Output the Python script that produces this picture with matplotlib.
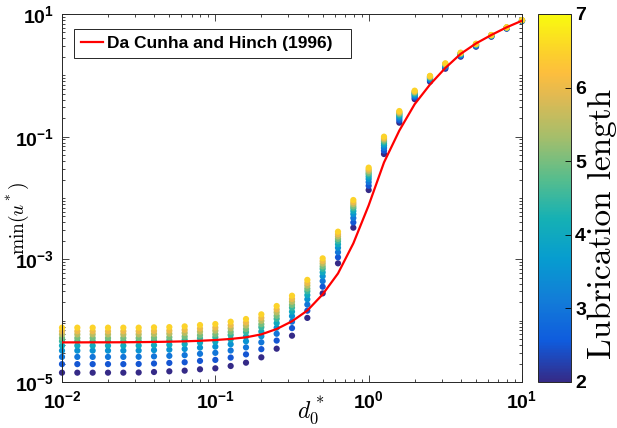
import numpy as np
import matplotlib
matplotlib.use("Agg")
import matplotlib.pyplot as plt
from matplotlib.colors import LinearSegmentedColormap
from matplotlib.ticker import LogLocator, NullFormatter, FixedLocator

plt.rcParams["mathtext.fontset"] = "custom"
plt.rcParams["mathtext.rm"] = "cmr10"
plt.rcParams["mathtext.it"] = "cmmi10"
plt.rcParams["mathtext.bf"] = "Liberation Sans:bold"
plt.rcParams["mathtext.sf"] = "Liberation Sans"
plt.rcParams["font.family"] = "Liberation Sans"

# gap d0* sampled at 10 points per decade
d0 = 10 ** np.arange(-2, 1.01, 0.1)

# lubrication lengths of the simulations
lub_len = [2.0, 2.5, 3.0, 3.5, 4.0, 4.5, 5.0, 5.5, 6.0, 6.5]
# relative position of each lubrication length inside a column
lub_profile = [0.0, 0.19, 0.35, 0.49, 0.60, 0.70, 0.77, 0.85, 0.92, 1.0]

# log10 min(u*) for the smallest (L=2) and largest (L=6.5) lubrication length
log_u_low = [-4.848, -4.848, -4.848, -4.848, -4.848, -4.845, -4.837, -4.826,
             -4.815, -4.793, -4.777, -4.739, -4.685, -4.598, -4.457, -4.245,
             -3.955, -3.555, -3.065, -2.484, -1.870, -1.283, -0.772, -0.388,
             -0.103, 0.108, 0.304, 0.467, 0.630, 0.761, 0.885]
log_u_high = [-4.114, -4.114, -4.114, -4.114, -4.114, -4.114, -4.109, -4.105,
              -4.093, -4.071, -4.055, -4.017, -3.973, -3.897, -3.761, -3.593,
              -3.335, -2.984, -2.549, -2.033, -1.505, -1.000, -0.582, -0.250,
              -0.008, 0.196, 0.370, 0.516, 0.658, 0.783, 0.900]

# Da Cunha and Hinch (1996), log10 min(u*)
log_u_dch = [-4.354, -4.354, -4.353, -4.353, -4.352, -4.350, -4.347, -4.343,
             -4.337, -4.328, -4.316, -4.298, -4.272, -4.223, -4.136, -4.010,
             -3.835, -3.571, -3.230, -2.740, -2.120, -1.420, -0.900, -0.470,
             -0.150, 0.120, 0.350, 0.520, 0.658, 0.783, 0.891]

# matlab parula, a subset of the 64 entries
parula_pts = [
    (0 / 63, (0.2081, 0.1663, 0.5292)),
    (7 / 63, (0.0591, 0.3598, 0.8683)),
    (14 / 63, (0.0723, 0.4887, 0.8467)),
    (21 / 63, (0.0265, 0.6137, 0.8135)),
    (28 / 63, (0.0843, 0.6928, 0.7062)),
    (35 / 63, (0.3482, 0.7424, 0.5473)),
    (42 / 63, (0.6473, 0.7456, 0.4188)),
    (49 / 63, (0.8824, 0.7274, 0.3217)),
    (53 / 63, (0.9938, 0.7455, 0.2403)),
    (56 / 63, (0.9880, 0.8066, 0.1794)),
    (63 / 63, (0.9763, 0.9831, 0.0538)),
]
parula = LinearSegmentedColormap.from_list("parula", parula_pts)

fig = plt.figure(figsize=(6.17, 4.28), dpi=100)
ax = fig.add_axes([62 / 617, 46 / 428, 460 / 617, 368 / 428])
cax = fig.add_axes([538 / 617, 46 / 428, 33 / 617, 368 / 428])

low = np.array(log_u_low)
high = np.array(log_u_high)
sc = None
for L, p in zip(lub_len, lub_profile):
    u = 10 ** (low + p * (high - low))
    sc = ax.scatter(d0, u, c=np.full(len(d0), L), cmap=parula, vmin=2, vmax=7,
                    s=20, linewidths=0, zorder=2, clip_on=False)

ax.plot(d0, 10 ** np.array(log_u_dch), color="#ff0000", lw=1.6, zorder=3,
        label="Da Cunha and Hinch (1996)")

ax.set_xscale("log")
ax.set_yscale("log")
ax.set_xlim(1e-2, 1e1)
ax.set_ylim(1e-5, 1e1)

ax.xaxis.set_major_locator(FixedLocator([1e-2, 1e-1, 1e0, 1e1]))
ax.xaxis.set_minor_locator(LogLocator(base=10, subs=np.arange(2, 10)))
ax.yaxis.set_major_locator(FixedLocator([1e-5, 1e-3, 1e-1, 1e1]))
ax.yaxis.set_minor_locator(LogLocator(base=10, subs=np.arange(1, 10), numticks=20))
ax.xaxis.set_minor_formatter(NullFormatter())
ax.yaxis.set_minor_formatter(NullFormatter())
ax.set_xticklabels([r"$\mathbf{10^{-2}}$", r"$\mathbf{10^{-1}}$",
                    r"$\mathbf{10^{0}}$", r"$\mathbf{10^{1}}$"])
ax.set_yticklabels([r"$\mathbf{10^{-5}}$", r"$\mathbf{10^{-3}}$",
                    r"$\mathbf{10^{-1}}$", r"$\mathbf{10^{1}}$"])

ax.tick_params(which="both", direction="in", top=True, right=True,
               colors="#262626", width=0.6, labelsize=14, labelcolor="black")
ax.tick_params(which="major", length=5, pad=6)
ax.tick_params(which="minor", length=2.5)
for s in ax.spines.values():
    s.set_linewidth(0.7)
    s.set_color("#262626")

ax.set_xlabel(r"$d_0^*$", fontsize=17)
ax.xaxis.set_label_coords(0.54, -0.035)
ax.set_ylabel(r"$\min(u^*)$", fontsize=14)
ax.yaxis.set_label_coords(-0.068, 0.445)

leg = ax.legend(loc="upper left", bbox_to_anchor=(0.026, 0.5, 0.602, 0.459),
                mode="expand", borderaxespad=0,
                fancybox=False, framealpha=1, edgecolor="#262626",
                prop={"weight": "bold", "size": 12.5}, handlelength=1.3,
                handletextpad=0.2, borderpad=0.4)
leg.get_frame().set_linewidth(0.7)

cb = fig.colorbar(sc, cax=cax, ticks=[2, 3, 4, 5, 6, 7])
cb.outline.set_linewidth(0.7)
cb.outline.set_edgecolor("#262626")
cb.ax.tick_params(direction="in", length=4, width=0.6, labelsize=14, pad=3)
for t in cb.ax.get_yticklabels():
    t.set_fontweight("bold")
cb.set_label("Lubrication length", family="cmr10", fontsize=24)
cb.ax.yaxis.set_label_coords(1.5, 0.43)

fig.savefig("out.png", dpi=100)
